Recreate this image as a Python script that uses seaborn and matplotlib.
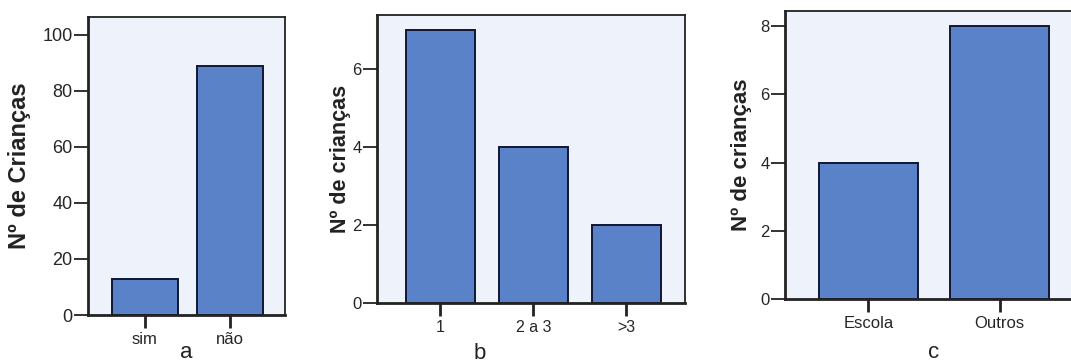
import matplotlib
matplotlib.use("Agg")
import matplotlib.pyplot as plt
import seaborn as sns
import pandas as pd

# ---- data ----
cats_a = ["sim", "não"]
vals_a = [13, 89]
cats_b = ["1", "2 a 3", ">3"]
vals_b = [7, 4, 2]
cats_c = ["Escola", "Outros"]
vals_c = [4, 8]

ylabel_a = "Nº de Crianças"
ylabel_bc = "Nº de crianças"
panel_letters = ["a", "b", "c"]

sns.set_theme(style="white")
plt.rcParams["font.family"] = ["Liberation Sans", "DejaVu Sans"]

BAR = "#5a82c8"
EDGE = "#111733"
BG = "#eef2fb"

fig = plt.figure(figsize=(10.71, 3.64), dpi=100)
W, H = 1071, 364

def make_ax(l, r, t, b):
    return fig.add_axes([l / W, (H - b) / H, (r - l) / W, (b - t) / H])

specs = [
    dict(cats=cats_a, vals=vals_a, box=(88, 285, 17, 315), ylim=106.4, yticks=[0, 20, 40, 60, 80, 100],
         xlim=(-0.67, 1.65), width=0.78, ylabel=ylabel_a, ylab_x=-0.29, ylab_fs=17,
         tick_fs=13, xtick_fs=12, letter=(0.5, -0.125)),
    dict(cats=cats_b, vals=vals_b, box=(377, 685, 15, 303), ylim=7.38, yticks=[0, 2, 4, 6],
         xlim=(-0.68, 2.63), width=0.74, ylabel=ylabel_bc, ylab_x=-0.084, ylab_fs=15.5,
         tick_fs=12, xtick_fs=11.5, letter=(0.334, -0.175)),
    dict(cats=cats_c, vals=vals_c, box=(785, 1083, 11, 299), ylim=8.44, yticks=[0, 2, 4, 6, 8],
         xlim=(-0.635, 1.635), width=0.75, ylabel=ylabel_bc, ylab_x=-0.111, ylab_fs=16,
         tick_fs=12, xtick_fs=12, letter=(0.5, -0.185)),
]

for spec, letter in zip(specs, panel_letters):
    ax = make_ax(*spec["box"])
    df = pd.DataFrame({"cat": spec["cats"], "val": spec["vals"]})
    sns.barplot(data=df, x="cat", y="val", ax=ax, color=BAR, saturation=1,
                edgecolor=EDGE, linewidth=1.4, width=spec["width"], errorbar=None)
    ax.set_facecolor(BG)
    ax.set_xlim(*spec["xlim"])
    ax.set_ylim(0, spec["ylim"])
    ax.set_yticks(spec["yticks"])
    ax.set_yticklabels([str(v) for v in spec["yticks"]], fontsize=spec["tick_fs"])
    ax.tick_params(axis="y", direction="out", length=10, width=1.3, color="#222222", pad=1,
                   left=True)
    ax.tick_params(axis="x", direction="out", length=9, width=2, color="#222222", pad=3,
                   bottom=True, labelsize=spec["xtick_fs"])
    for s in ax.spines.values():
        s.set_visible(True)
        s.set_color("#222222")
        s.set_linewidth(1.3)
    ax.spines["left"].set_linewidth(2)
    ax.spines["bottom"].set_linewidth(2)
    ax.set_xlabel("")
    ax.set_ylabel(spec["ylabel"], fontsize=spec["ylab_fs"], fontweight="bold", color="#222222")
    ax.yaxis.set_label_coords(spec["ylab_x"], 0.5)
    lx, ly = spec["letter"]
    ax.text(lx, ly, letter, transform=ax.transAxes, ha="center", va="center",
            fontsize=16, color="#222222")

fig.savefig("out.png", dpi=100, facecolor="white")
